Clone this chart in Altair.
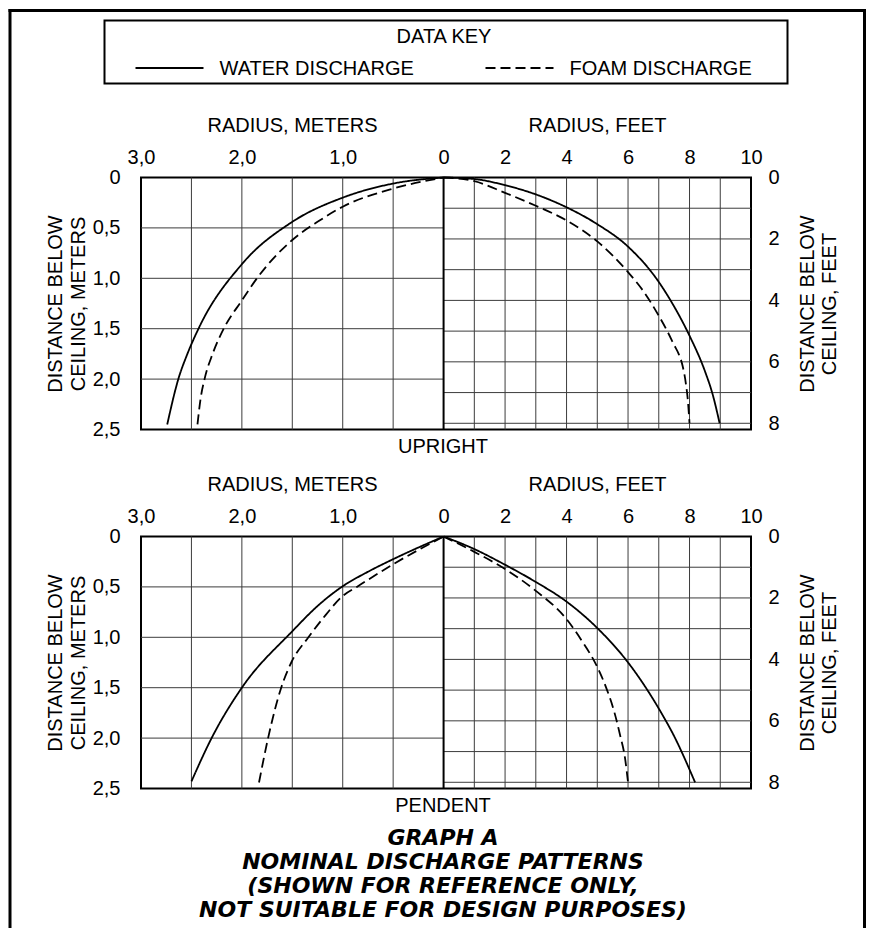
import altair as alt
import pandas as pd

FONT = "Liberation Sans"
BOLD_FONT = "DejaVu Sans"
FT = 0.3048  # metres per foot (unit conversion only)

series = ["WATER DISCHARGE", "FOAM DISCHARGE"]

# ---- UPRIGHT: metres half (radius m, depth m) ----
up_water_m_r = [0, 0.5, 1.0, 1.5, 2.0, 2.43, 2.54, 2.63, 2.74]
up_water_m_d = [0, 0.06, 0.2, 0.44, 0.86, 1.5, 1.75, 2.0, 2.45]
up_foam_m_r = [0, 0.5, 1.0, 1.25, 1.5, 1.85, 2.0, 2.18, 2.29, 2.37, 2.41, 2.44]
up_foam_m_d = [0, 0.11, 0.29, 0.44, 0.62, 1.0, 1.22, 1.5, 1.75, 2.0, 2.2, 2.45]
# ---- UPRIGHT: feet half (radius ft, depth ft) ----
up_water_ft_r = [0, 1, 2, 3, 4, 5, 6, 7, 7.5, 8, 8.5, 8.75, 8.98]
up_water_ft_d = [0, 0.05, 0.25, 0.55, 0.97, 1.52, 2.25, 3.4, 4.2, 5.15, 6.3, 7.05, 8.0]
up_foam_ft_r = [0, 1, 2, 3, 4, 5, 6, 6.5, 7, 7.25, 7.5, 7.65, 7.78, 7.88, 7.95, 8.0]
up_foam_ft_d = [0, 0.12, 0.5, 0.92, 1.4, 2.08, 3.08, 3.7, 4.5, 4.95, 5.45, 5.75, 6.15, 6.7, 7.3, 8.0]

# ---- PENDENT: metres half ----
pe_water_m_r = [0, 0.5, 0.75, 1.01, 1.25, 1.5, 2.0, 2.3, 2.5]
pe_water_m_d = [0, 0.225, 0.35, 0.5, 0.69, 0.94, 1.5, 2.0, 2.43]
pe_foam_m_r = [0, 0.5, 0.86, 1.0, 1.17, 1.34, 1.51, 1.61, 1.74, 1.83]
pe_foam_m_d = [0, 0.275, 0.5, 0.59, 0.78, 1.0, 1.25, 1.5, 2.0, 2.44]
# ---- PENDENT: feet half ----
pe_water_ft_r = [0, 1, 2, 3, 4, 5, 6, 6.5, 7, 7.5, 8.18]
pe_water_ft_d = [0, 0.41, 0.92, 1.48, 2.12, 2.98, 4.1, 4.8, 5.6, 6.5, 8.0]
pe_foam_ft_r = [0, 1, 2, 3, 4, 4.5, 5, 5.3, 5.55, 5.75, 5.9, 6.0]
pe_foam_ft_d = [0, 0.5, 1.06, 1.77, 2.69, 3.4, 4.25, 4.95, 5.7, 6.5, 7.2, 8.0]

# axis tick values / grid values
m_radius_ticks = [3.0, 2.0, 1.0, 0.0]
ft_radius_ticks = [2, 4, 6, 8, 10]
m_depth_ticks = [0, 0.5, 1.0, 1.5, 2.0, 2.5]
ft_depth_ticks = [0, 2, 4, 6, 8]
m_grid_radius = [0.5, 1.0, 1.5, 2.0, 2.5]
m_grid_depth = [0.5, 1.0, 1.5, 2.0]
ft_grid_radius = [1, 2, 3, 4, 5, 6, 7, 8, 9]
ft_grid_depth = [1, 2, 3, 4, 5, 6, 7, 8]

M_MAX = 3.0
FT_MAX = 10
DEPTH_MAX = 2.5

GRID = "#3c3c3c"
PW, PH = 610, 252

xs = alt.Scale(domain=[M_MAX, -FT_MAX * FT], nice=False, zero=False)
ys = alt.Scale(domain=[0, DEPTH_MAX], reverse=True, nice=False, zero=False)
dash = alt.Scale(domain=series, range=[[1, 0], [10, 5]])

one = pd.DataFrame({"k": [0]})


def half_df(w_r, w_d, f_r, f_d, factor, sign):
    return pd.DataFrame({
        "series": [series[0]] * len(w_r) + [series[1]] * len(f_r),
        "x": [sign * v * factor for v in w_r + f_r],
        "y": [v * factor for v in w_d + f_d],
    })


def panel(wm_r, wm_d, fm_r, fm_d, wf_r, wf_d, ff_r, ff_d, title):
    dfm = half_df(wm_r, wm_d, fm_r, fm_d, 1.0, 1)
    dff = half_df(wf_r, wf_d, ff_r, ff_d, FT, -1)

    gm_v = alt.Chart(pd.DataFrame({"v": m_grid_radius})).mark_rule(
        color=GRID, strokeWidth=1).encode(
        x=alt.X("v:Q", scale=xs, axis=None),
        y=alt.YDatum(0, scale=ys, axis=None), y2=alt.Y2Datum(DEPTH_MAX))
    gm_h = alt.Chart(pd.DataFrame({"v": m_grid_depth})).mark_rule(
        color=GRID, strokeWidth=1).encode(
        y=alt.Y("v:Q", scale=ys, axis=None),
        x=alt.XDatum(M_MAX, scale=xs, axis=None), x2=alt.X2Datum(0))
    gf_v = alt.Chart(pd.DataFrame({"v": [-v * FT for v in ft_grid_radius]})).mark_rule(
        color=GRID, strokeWidth=1).encode(
        x=alt.X("v:Q", scale=xs, axis=None),
        y=alt.YDatum(0, scale=ys, axis=None), y2=alt.Y2Datum(DEPTH_MAX))
    gf_h = alt.Chart(pd.DataFrame({"v": [v * FT for v in ft_grid_depth]})).mark_rule(
        color=GRID, strokeWidth=1).encode(
        y=alt.Y("v:Q", scale=ys, axis=None),
        x=alt.XDatum(0, scale=xs, axis=None), x2=alt.X2Datum(-FT_MAX * FT))
    center = alt.Chart(one).mark_rule(color="black", strokeWidth=2).encode(
        x=alt.XDatum(0, scale=xs, axis=None),
        y=alt.YDatum(0, scale=ys, axis=None), y2=alt.Y2Datum(DEPTH_MAX))

    ax_top_m = alt.Axis(
        orient="top", values=m_radius_ticks,
        labelExpr="datum.value == 0 ? '0' : replace(format(datum.value, '.1f'), '.', ',')",
        title="RADIUS, METERS", titleX=151, labelPadding=10, titlePadding=12)
    ax_top_ft = alt.Axis(
        orient="top", values=[-v * FT for v in ft_radius_ticks],
        labelExpr="format(-datum.value / 0.3048, '.0f')",
        title="RADIUS, FEET", titleX=456, labelPadding=10, titlePadding=12)
    ax_left = alt.Axis(
        orient="left", values=m_depth_ticks,
        labelExpr="datum.value == 0 ? '0' : replace(format(datum.value, '.1f'), '.', ',')",
        title=["DISTANCE BELOW", "CEILING, METERS"],
        labelPadding=21, titlePadding=4, titleLineHeight=23)
    ax_right = alt.Axis(
        orient="right", values=[v * FT for v in ft_depth_ticks],
        labelExpr="format(datum.value / 0.3048, '.0f')",
        title=["DISTANCE BELOW", "CEILING, FEET"],
        titleAngle=270, titleBaseline="top",
        labelPadding=17, titlePadding=-4, titleLineHeight=22)

    cm = alt.Chart(dfm).mark_line(color="black", strokeWidth=1.8, interpolate="monotone").encode(
        x=alt.X("x:Q", scale=xs, axis=ax_top_m),
        y=alt.Y("y:Q", scale=ys, axis=ax_left),
        strokeDash=alt.StrokeDash("series:N", scale=dash, legend=None),
    )
    cf = alt.Chart(dff).mark_line(color="black", strokeWidth=1.8, interpolate="monotone").encode(
        x=alt.X("x:Q", scale=xs, axis=ax_top_ft),
        y=alt.Y("y:Q", scale=ys, axis=ax_right),
        strokeDash=alt.StrokeDash("series:N", scale=dash, legend=None),
    )
    return alt.layer(gm_v, gm_h, gf_v, gf_h, center, cm, cf).resolve_axis(
        x="independent", y="independent").properties(width=PW, height=PH, title=title)


upright = panel(up_water_m_r, up_water_m_d, up_foam_m_r, up_foam_m_d,
                up_water_ft_r, up_water_ft_d, up_foam_ft_r, up_foam_ft_d,
                alt.TitleParams("UPRIGHT", orient="bottom", anchor="middle", frame="group",
                                offset=-3, dx=-3, fontSize=20, fontWeight="normal",
                                font=FONT, color="black"))
pendent = panel(pe_water_m_r, pe_water_m_d, pe_foam_m_r, pe_foam_m_d,
                pe_water_ft_r, pe_water_ft_d, pe_foam_ft_r, pe_foam_ft_d,
                alt.TitleParams("PENDENT", orient="bottom", anchor="middle", frame="group",
                                offset=-3, dx=-3, fontSize=20, fontWeight="normal",
                                font=FONT, color="black",
                                subtitle=["GRAPH A", "NOMINAL DISCHARGE PATTERNS",
                                          "(SHOWN FOR REFERENCE ONLY,",
                                          "NOT SUITABLE FOR DESIGN PURPOSES)"],
                                subtitleFont=BOLD_FONT, subtitleFontSize=22,
                                subtitleFontWeight="bold", subtitleFontStyle="italic",
                                subtitleColor="black", subtitleLineHeight=24,
                                subtitlePadding=12))

# ---- data key box ----
KW, KH = 683, 63
key_df = pd.DataFrame({"series": series})
kx = alt.Scale(type="point", domain=series, range=[31, 381], padding=0)

FR_L, FR_T, FR_R, FR_B = -94.5, -10, 760, 930
frame_l = alt.Chart(one).mark_rule(color="black", strokeWidth=3, strokeCap="square").encode(
    x=alt.value(FR_L), y=alt.value(FR_T), y2=alt.value(FR_B))
frame_t = alt.Chart(one).mark_rule(color="black", strokeWidth=3, strokeCap="square").encode(
    x=alt.value(FR_L), x2=alt.value(FR_R), y=alt.value(FR_T))
frame_r = alt.Chart(one).mark_rule(color="black", strokeWidth=3, strokeCap="square").encode(
    x=alt.value(FR_R), y=alt.value(FR_T), y2=alt.value(FR_B))
box = alt.Chart(one).mark_rect(filled=False, stroke="black", strokeWidth=2).encode(
    x=alt.value(0), x2=alt.value(KW), y=alt.value(0), y2=alt.value(KH))
key_title = alt.Chart(one).mark_text(fontSize=20, font=FONT, color="black",
                                     align="center", baseline="middle").encode(
    x=alt.value(339.5), y=alt.value(16.5), text=alt.value("DATA KEY"))
key_lines = alt.Chart(key_df).mark_rule(color="black", strokeWidth=1.8, x2Offset=68).encode(
    x=alt.X("series:N", scale=kx, axis=None), x2=alt.X2("series:N"),
    y=alt.value(47.5),
    strokeDash=alt.StrokeDash("series:N", scale=dash, legend=None))
key_labels = alt.Chart(key_df).mark_text(fontSize=20, font=FONT, color="black",
                                         align="left", baseline="middle", dx=84).encode(
    x=alt.X("series:N", scale=kx, axis=None), y=alt.value(48.5), text="series:N")

key = alt.layer(frame_l, frame_t, frame_r, box, key_title, key_lines, key_labels).properties(
    width=KW, height=49.7, view=alt.ViewConfig(stroke="transparent"))

chart = alt.vconcat(key, upright, pendent, spacing=107, bounds="flush", center=True).properties(
    padding={"left": -1.5, "top": -1.5, "right": -1.5, "bottom": 0}
).configure(font=FONT).configure_view(
    stroke="black", strokeWidth=2
).configure_axis(
    grid=False, domain=False, ticks=False, tickSize=0,
    labelFont=FONT, titleFont=FONT, labelFontSize=20, titleFontSize=20,
    titleFontWeight="normal", labelColor="black", titleColor="black",
    labelFlush=False, labelOverlap=False
)

chart.save("out.html", embed_options={"renderer": "svg", "actions": False})
